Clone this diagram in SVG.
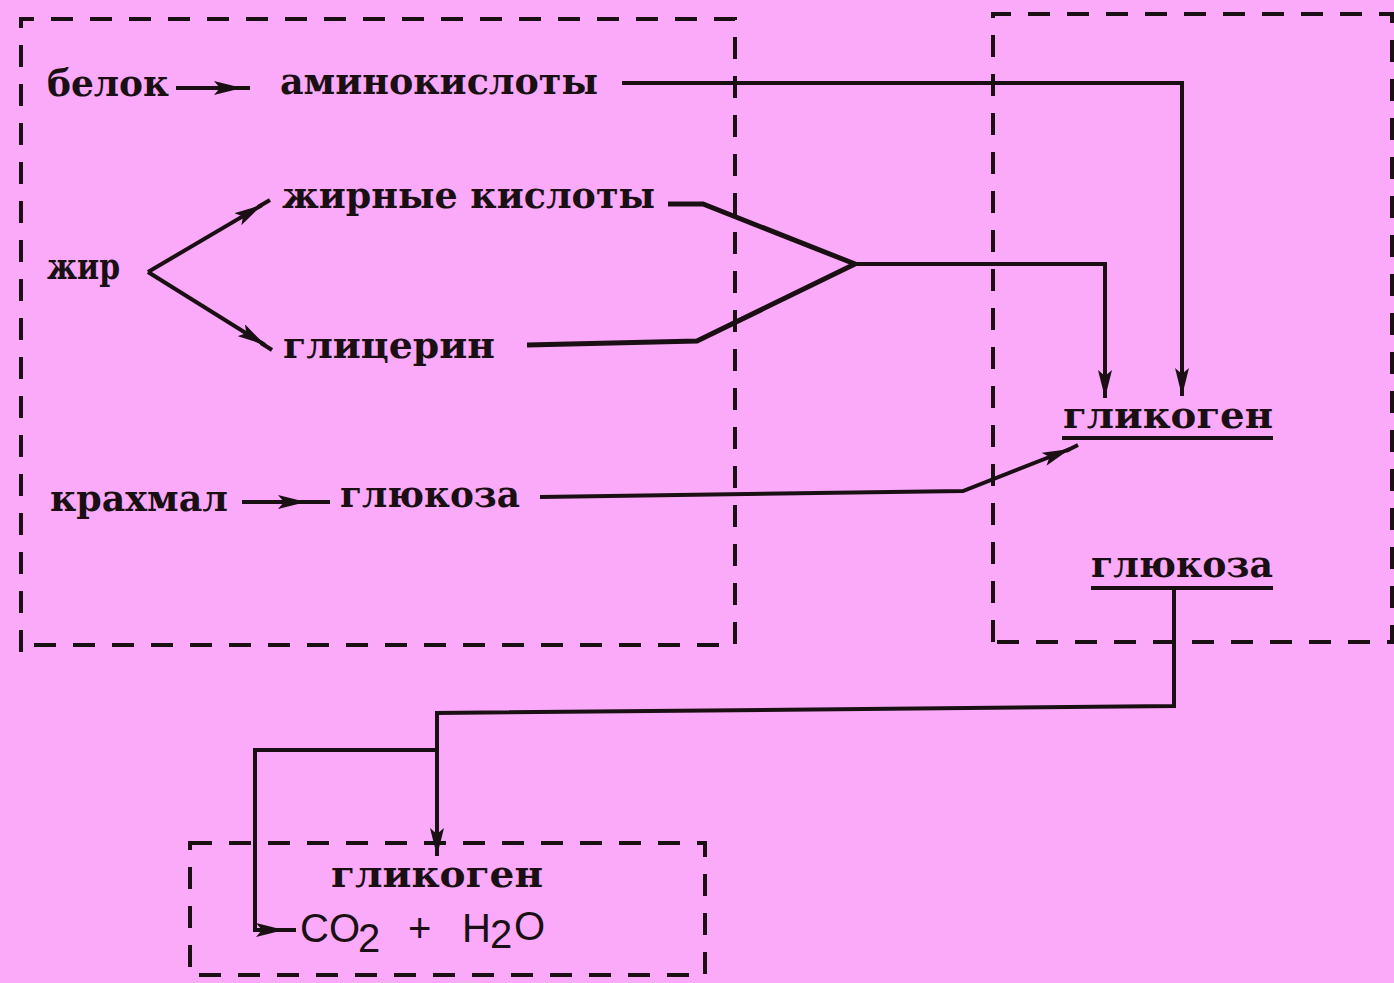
<svg xmlns="http://www.w3.org/2000/svg" width="1394" height="983" viewBox="0 0 1394 983">
<style>
.bg{fill:#FAAAF8}
.box{fill:none;stroke:#1a1014;stroke-width:4;stroke-dasharray:22 17}
.ln{fill:none;stroke:#1a1014;stroke-width:4;stroke-linejoin:miter}
.thick{stroke-width:5}
.t{font-family:"DejaVu Serif","Liberation Serif",serif;font-weight:bold;font-size:38px;fill:#1a1014}
.f{font-family:"Liberation Sans","DejaVu Sans",sans-serif;font-size:40px;fill:#1a1014}
.ul{stroke:#1a1014;stroke-width:4}
</style>
<defs>
<marker id="ah" viewBox="0 0 28 14" refX="28" refY="7" markerWidth="28" markerHeight="14" markerUnits="userSpaceOnUse" orient="auto">
<path d="M0 0 L28 7 L0 14 L6 7 Z" fill="#1a1014"/>
</marker>
</defs>
<rect class="bg" x="0" y="0" width="1394" height="983"/>

<g id="frames">
<path class="box" d="M21 652 V19 H735 V645 H21"/>
<path class="box" d="M993 642 V14 H1392 V642 H993"/>
<rect class="box" x="190" y="843" width="515" height="132"/>
</g>

<g id="connectors">
<path class="ln" d="M176 88 H242" marker-end="url(#ah)"/>
<path class="ln" d="M238 88 H250"/>
<path class="ln" d="M148 272 L262 205" marker-end="url(#ah)"/>
<path class="ln" d="M258 207 L270 200"/>
<path class="ln" d="M148 272 L265 345" marker-end="url(#ah)"/>
<path class="ln" d="M261 343 L272 350"/>
<path class="ln" d="M242 502 H306" marker-end="url(#ah)"/>
<path class="ln" d="M302 502 H330"/>
<path class="ln" d="M622 83 H1182 V396" marker-end="url(#ah)"/>
<path class="ln thick" d="M668 204 L703 204 L855 264 L697 341 L527 345"/>
<path class="ln" d="M855 264 H1105 V398" marker-end="url(#ah)"/>
<path class="ln" d="M540 497 L963 491 L1070 449" marker-end="url(#ah)"/>
<path class="ln" d="M1066 451 L1078 445"/>
<path class="ln" d="M1174 588 V706 L437 713 V856" marker-end="url(#ah)"/>
<path class="ln" d="M437 750 H255 V930 H284" marker-end="url(#ah)"/>
<path class="ln" d="M280 930 H296"/>
</g>

<g id="node-belok"><text class="t" x="47" y="96" textLength="122" lengthAdjust="spacingAndGlyphs">белок</text></g>
<g id="node-aminokisloty"><text class="t" x="280" y="94" textLength="318" lengthAdjust="spacingAndGlyphs">аминокислоты</text></g>
<g id="node-zhirnye-kisloty"><text class="t" x="282" y="208" textLength="373" lengthAdjust="spacingAndGlyphs">жирные  кислоты</text></g>
<g id="node-zhir"><text class="t" x="47" y="279" textLength="73" lengthAdjust="spacingAndGlyphs">жир</text></g>
<g id="node-glicerin"><text class="t" x="283" y="358" textLength="212" lengthAdjust="spacingAndGlyphs">глицерин</text></g>
<g id="node-krahmal"><text class="t" x="50" y="511" textLength="178" lengthAdjust="spacingAndGlyphs">крахмал</text></g>
<g id="node-glukoza-1"><text class="t" x="340" y="507" textLength="180" lengthAdjust="spacingAndGlyphs">глюкоза</text></g>
<g id="node-glikogen-1">
<text class="t" x="1063" y="428" textLength="210" lengthAdjust="spacingAndGlyphs">гликоген</text>
<line class="ul" x1="1062" y1="438" x2="1273" y2="438"/>
</g>
<g id="node-glukoza-2">
<text class="t" x="1091" y="577" textLength="182" lengthAdjust="spacingAndGlyphs">глюкоза</text>
<line class="ul" x1="1091" y1="588" x2="1273" y2="588"/>
</g>
<g id="node-glikogen-2"><text class="t" x="331" y="887" textLength="212" lengthAdjust="spacingAndGlyphs">гликоген</text></g>
<g id="node-co2-h2o">
<text class="f" x="300" y="942">CO<tspan x="358" y="952">2</tspan><tspan x="408" y="942">+</tspan><tspan x="462" y="942">H</tspan><tspan x="490" y="948">2</tspan><tspan x="514" y="940">O</tspan></text>
</g>
</svg>
